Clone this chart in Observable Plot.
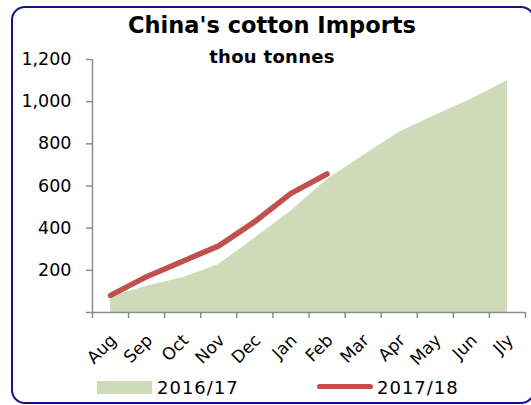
<!DOCTYPE html>
<html>
<head>
<meta charset="utf-8">
<script src="https://cdn.jsdelivr.net/npm/d3@7"></script>
<script src="https://cdn.jsdelivr.net/npm/@observablehq/plot@0.6"></script>
<style>
  html, body { margin: 0; padding: 0; background: #fff; }
  #wrap { position: relative; width: 531px; height: 405px; overflow: hidden; font-family: "DejaVu Sans", sans-serif; }
  #frame { position: absolute; left: 11px; top: 6px; width: 524px; height: 398px; border: 2.3px solid #14148c; border-radius: 14px; box-sizing: border-box; }
  #chart { position: absolute; left: 0; top: 0; }
  .title { position: absolute; left: 0; width: 544px; text-align: center; font-weight: bold; color: #000; white-space: nowrap; }
  #t1 { top: 12px; font-size: 22.5px; }
  #t2 { top: 46px; font-size: 18px; letter-spacing: 0.3px; }
  .leg { position: absolute; font-size: 18px; letter-spacing: 1px; color: #000; white-space: nowrap; }
</style>
</head>
<body>
<div id="wrap">
  <div id="frame"></div>
  <div id="chart"></div>
  <div class="title" id="t1">China's cotton Imports</div>
  <div class="title" id="t2">thou tonnes</div>
  <div style="position:absolute;left:97px;top:381px;width:55px;height:13px;background:#cfdbb8"></div>
  <div class="leg" style="left:157px;top:377px">2016/17</div>
  <div style="position:absolute;left:317px;top:384px;width:56px;height:5px;border-radius:3px;background:#c0504d"></div>
  <div class="leg" style="left:377px;top:377px">2017/18</div>
</div>
<script>
const months = ["Aug","Sep","Oct","Nov","Dec","Jan","Feb","Mar","Apr","May","Jun","Jly"];
const imports1617 = [75, 125, 165, 228, 352, 482, 630, 744, 855, 935, 1012, 1100];
const imports1718 = [81, 170, 243, 316, 431, 565, 657];
const yTicks = [200, 400, 600, 800, 1000, 1200];

const d16 = months.map((m, i) => ({i, v: imports1617[i]}));
const d17 = imports1718.map((v, i) => ({i, v}));
const bounds = d3.range(-0.5, 12, 1);
const centers = d3.range(0, 12);

const plot = Plot.plot({
  width: 531,
  height: 405,
  marginLeft: 92,
  marginRight: 6,
  marginTop: 59,
  marginBottom: 93,
  style: {fontFamily: "DejaVu Sans, sans-serif", background: "transparent", overflow: "visible"},
  x: {type: "linear", domain: [-0.5, 11.5]},
  y: {domain: [0, 1200]},
  marks: [
    Plot.areaY(d16, {x: "i", y: "v", fill: "#cfdbb8"}),
    Plot.lineY(d17, {x: "i", y: "v", stroke: "#c0504d", strokeWidth: 5.5, strokeLinecap: "round", strokeLinejoin: "round"}),
    Plot.ruleX([-0.5], {y1: 0, y2: 1200, stroke: "#8c8c8c", strokeWidth: 1.5, strokeOpacity: 1}),
    Plot.ruleY([0], {x1: -0.67, x2: 11.5, stroke: "#8c8c8c", strokeWidth: 1.5, strokeOpacity: 1}),
    Plot.axisY({ticks: yTicks, tickSize: 6, tickPadding: 15, tickFormat: d3.format(","), fontSize: 17.5, stroke: "#8c8c8c", strokeWidth: 1.5, strokeOpacity: 1, label: null, fill: "#000", style: {letterSpacing: "1px"}}),
    Plot.axisX({ticks: bounds, tickSize: 6, tickFormat: () => "", stroke: "#8c8c8c", strokeWidth: 1.5, strokeOpacity: 1, label: null}),
    Plot.axisX({ticks: centers, tickSize: 0, tickPadding: 25, dx: 3, tickRotate: -45, tickFormat: i => months[i], fontSize: 17, fill: "#000", label: null, style: {letterSpacing: "0.5px"}})
  ]
});
document.getElementById("chart").appendChild(plot);
</script>
</body>
</html>
